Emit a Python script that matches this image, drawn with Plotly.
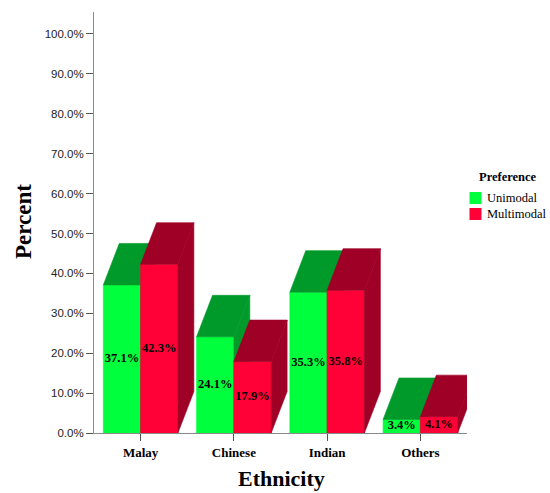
import plotly.graph_objects as go

# ---- data ----
categories = ["Malay", "Chinese", "Indian", "Others"]
unimodal = [37.1, 24.1, 35.3, 3.4]
multimodal = [42.3, 17.9, 35.8, 4.1]
series_names = ["Unimodal", "Multimodal"]
y_ticks = [0, 10, 20, 30, 40, 50, 60, 70, 80, 90, 100]

# ---- style ----
FRONT = {"Unimodal": "#00FF3C", "Multimodal": "#FF0037"}
DARK = {"Unimodal": "#009A2A", "Multimodal": "#9E0026"}
SERIF = "Liberation Serif"
SANS = "Liberation Sans"
BAR_W = 0.4          # width of each bar (category units)
DX = 0.171           # depth offset in x (category units)
DY = 10.4            # depth offset in y (percent units)

# plot area in pixels (for legend/title placement)
W, H = 550, 493
L, R, T, B = 94, 83, 12, 60
PW, PH = W - L - R, H - T - B


def px_x(p):
    return (p - L) / PW


def px_y(q):
    return (H - B - q) / PH


fig = go.Figure()


def add_poly(xs, ys, color):
    fig.add_trace(go.Scatter(
        x=xs + [xs[0]], y=ys + [ys[0]], mode="lines", fill="toself",
        fillcolor=color, line=dict(color=color, width=0.6),
        hoverinfo="skip", showlegend=False))


label_x, label_y, label_t = [], [], []
for i, cat in enumerate(categories):
    for s, (name, vals) in enumerate(zip(series_names, [unimodal, multimodal])):
        v = vals[i]
        x0 = i - BAR_W + s * BAR_W
        x1 = x0 + BAR_W
        # front face
        add_poly([x0, x1, x1, x0], [0, 0, v, v], FRONT[name])
        # top face
        add_poly([x0, x1, x1 + DX, x0 + DX], [v, v, v + DY, v + DY], DARK[name])
        # side face
        add_poly([x1, x1 + DX, x1 + DX, x1], [0, DY, v + DY, v], DARK[name])
        label_x.append((x0 + x1) / 2)
        label_y.append(v / 2)
        label_t.append(f"{v:.1f}%")

fig.add_trace(go.Scatter(
    x=label_x, y=label_y, text=label_t, mode="text",
    textfont=dict(family=SERIF, size=12.5, color="black", weight="bold"),
    hoverinfo="skip", showlegend=False))

fig.update_layout(
    width=W, height=H,
    margin=dict(l=L, r=R, t=T, b=B),
    paper_bgcolor="white", plot_bgcolor="white",
    showlegend=False,
    xaxis=dict(
        range=[-0.5, 3.5], tickmode="array",
        tickvals=list(range(len(categories))), ticktext=categories,
        showgrid=False, zeroline=False, showline=True,
        linecolor="#8a8a8a", linewidth=1,
        ticks="outside", ticklen=7, tickcolor="#555555",
        tickfont=dict(family=SERIF, size=13, color="black", weight="bold"),
        fixedrange=True),
    yaxis=dict(
        range=[0, 105.5], tickmode="array", tickvals=y_ticks,
        ticktext=[f"{t:.1f}%" for t in y_ticks],
        showgrid=False, zeroline=False, showline=True,
        linecolor="#8a8a8a", linewidth=1,
        ticks="outside", ticklen=7, tickcolor="#555555",
        tickfont=dict(family=SANS, size=11.5, color="#222222"),
        fixedrange=True),
)

annotations = [
    dict(text="Percent", x=px_x(23), y=px_y(222), xref="paper", yref="paper",
         textangle=-90, showarrow=False, xanchor="center", yanchor="middle",
         font=dict(family=SERIF, size=23, color="black", weight="bold")),
    dict(text="Ethnicity", x=px_x(281), y=px_y(479), xref="paper", yref="paper",
         showarrow=False, xanchor="center", yanchor="middle",
         font=dict(family=SERIF, size=22, color="black", weight="bold")),
    dict(text="Preference", x=px_x(508), y=px_y(177), xref="paper", yref="paper",
         showarrow=False, xanchor="center", yanchor="middle",
         font=dict(family=SERIF, size=12.5, color="black", weight="bold")),
]
shapes = []
for k, name in enumerate(series_names):
    cy = 198 + k * 16
    shapes.append(dict(type="rect", xref="paper", yref="paper",
                       x0=px_x(469.5), x1=px_x(481.5),
                       y0=px_y(cy + 6), y1=px_y(cy - 6),
                       fillcolor=FRONT[name], line=dict(width=0)))
    annotations.append(dict(text=name, x=px_x(485), y=px_y(cy), xref="paper",
                            yref="paper", showarrow=False, xanchor="left",
                            yanchor="middle",
                            font=dict(family=SERIF, size=12.5, color="black")))

fig.update_layout(annotations=annotations, shapes=shapes)

fig.write_html("out.html", config={"displayModeBar": False})
